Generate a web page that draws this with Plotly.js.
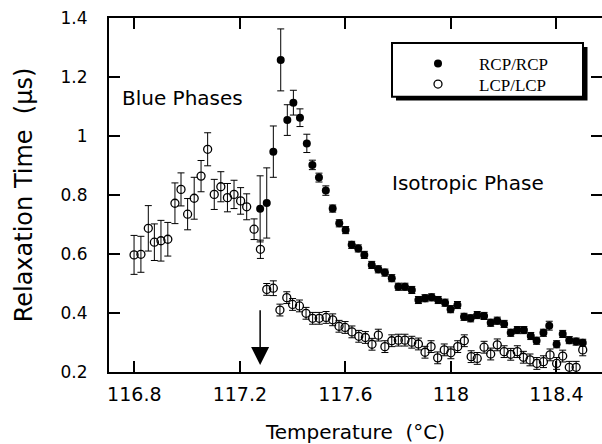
<!DOCTYPE html>
<html>
<head>
<meta charset="utf-8">
<script src="https://cdn.plot.ly/plotly-3.0.1.min.js"></script>
<style>html,body{margin:0;padding:0;background:#fff;}#chart{width:602px;height:444px;}</style>
</head>
<body>
<div id="chart"></div>
<script>
// RCP/RCP (filled circles)
var rcpT = [117.277,117.302,117.327,117.355,117.380,117.403,117.428,117.454,117.475,117.500,
            117.526,117.552,117.577,117.601,117.624,117.649,117.672,117.700,117.725,117.750,
            117.776,117.801,117.826,117.852,117.877,117.902,117.927,117.952,117.978,117.999,
            118.025,118.050,118.075,118.100,118.126,118.151,118.176,118.202,118.227,118.252,
            118.277,118.303,118.325,118.351,118.373,118.401,118.424,118.449,118.475,118.500];
var rcpTau = [0.753,0.773,0.947,1.258,1.054,1.113,1.062,0.975,0.902,0.859,
              0.815,0.754,0.704,0.681,0.631,0.619,0.597,0.563,0.548,0.537,
              0.518,0.489,0.489,0.478,0.444,0.450,0.453,0.444,0.435,0.413,
              0.427,0.387,0.382,0.393,0.390,0.367,0.374,0.363,0.333,0.342,
              0.342,0.322,0.306,0.333,0.357,0.294,0.329,0.308,0.303,0.299];
var rcpErr = [0.112,0.119,0.087,0.105,0.052,0.042,0.030,0.031,0.016,0.015,
              0.016,0.012,0.012,0.012,0.012,0.012,0.012,0.012,0.012,0.012,
              0.012,0.012,0.012,0.012,0.012,0.012,0.012,0.012,0.012,0.012,
              0.012,0.012,0.012,0.012,0.012,0.012,0.012,0.012,0.012,0.012,
              0.012,0.012,0.012,0.012,0.015,0.012,0.012,0.012,0.012,0.012];

// LCP/LCP (open circles)
var lcpT = [116.799,116.825,116.853,116.876,116.901,116.927,116.954,116.977,117.002,117.027,
            117.053,117.078,117.103,117.128,117.153,117.178,117.203,117.226,117.254,117.278,
            117.302,117.327,117.352,117.378,117.400,117.426,117.451,117.476,117.501,117.527,
            117.552,117.576,117.599,117.625,117.651,117.676,117.701,117.725,117.750,117.776,
            117.801,117.826,117.852,117.877,117.902,117.925,117.950,117.975,118.000,118.026,
            118.051,118.077,118.100,118.126,118.151,118.176,118.202,118.227,118.252,118.275,
            118.300,118.326,118.351,118.376,118.401,118.424,118.449,118.475,118.500];
var lcpTau = [0.597,0.599,0.687,0.640,0.645,0.650,0.772,0.819,0.735,0.789,
              0.864,0.955,0.802,0.828,0.791,0.802,0.780,0.760,0.684,0.616,
              0.480,0.484,0.410,0.452,0.429,0.424,0.399,0.382,0.382,0.385,
              0.377,0.355,0.351,0.336,0.321,0.317,0.294,0.325,0.286,0.306,
              0.308,0.308,0.301,0.295,0.267,0.286,0.248,0.275,0.265,0.286,
              0.306,0.252,0.246,0.284,0.261,0.292,0.269,0.260,0.269,0.250,
              0.241,0.229,0.235,0.258,0.229,0.254,0.216,0.216,0.275];
var lcpErr = [0.066,0.061,0.077,0.062,0.069,0.057,0.069,0.056,0.053,0.071,
              0.053,0.056,0.051,0.051,0.048,0.048,0.045,0.044,0.035,0.031,
              0.020,0.025,0.020,0.020,0.020,0.020,0.020,0.020,0.020,0.020,
              0.020,0.020,0.020,0.020,0.020,0.020,0.020,0.020,0.020,0.020,
              0.020,0.020,0.020,0.020,0.020,0.020,0.020,0.020,0.020,0.020,
              0.020,0.020,0.020,0.020,0.020,0.020,0.020,0.020,0.020,0.020,
              0.020,0.020,0.020,0.020,0.020,0.020,0.020,0.020,0.020];

var xTickVals = [116.8,117.2,117.6,118.0,118.4];
var xTickText = ['116.8','117.2','117.6','118','118.4'];
var yTickVals = [0.2,0.4,0.6,0.8,1.0,1.2,1.4];
var yTickText = ['0.2','0.4','0.6','0.8','1','1.2','1.4'];

var traces = [
  {
    x: rcpT, y: rcpTau, name: 'RCP/RCP', type: 'scatter', mode: 'markers', legend: 'legend',
    marker: {symbol: 'circle', size: 8, color: '#000'},
    error_y: {type: 'data', array: rcpErr, visible: true, color: '#000', thickness: 1, width: 3.5}
  },
  {
    x: lcpT, y: lcpTau, name: 'LCP/LCP', type: 'scatter', mode: 'markers', legend: 'legend2',
    marker: {symbol: 'circle-open', size: 8, color: '#000', line: {width: 1.3, color: '#000'}},
    error_y: {type: 'data', array: lcpErr, visible: true, color: '#000', thickness: 1, width: 3.5}
  }
];

function px2px(p){ return (p - 109) / 493; }
function py2py(p){ return (372 - p) / 354; }

var legendFont = {family: 'Liberation Serif', size: 17, color: '#000'};

var layout = {
  width: 602, height: 444,
  margin: {l: 109, r: 0, t: 18, b: 72},
  paper_bgcolor: '#fff', plot_bgcolor: '#fff',
  font: {family: 'DejaVu Sans', color: '#000'},
  xaxis: {
    range: [116.704, 118.573], showgrid: false, zeroline: false,
    showline: true, linecolor: '#000', linewidth: 2, mirror: 'ticks',
    ticks: 'inside', ticklen: 11, tickwidth: 2, tickcolor: '#000',
    tickvals: xTickVals, ticktext: xTickText,
    tickfont: {family: 'DejaVu Sans', size: 19, color: '#000'},
    ticklabelstandoff: 4,
    title: {text: 'Temperature\u00a0\u00a0(°C)', font: {family: 'DejaVu Sans', size: 20, color: '#000'}, standoff: 23}
  },
  yaxis: {
    range: [0.2, 1.4], showgrid: false, zeroline: false,
    showline: true, linecolor: '#000', linewidth: 2, mirror: 'ticks',
    ticks: 'inside', ticklen: 11, tickwidth: 2, tickcolor: '#000',
    tickvals: yTickVals, ticktext: yTickText,
    tickfont: {family: 'DejaVu Sans', size: 17, color: '#000'},
    ticklabelstandoff: 16,
    title: {text: 'Relaxation Time\u00a0\u00a0(µs)', font: {family: 'DejaVu Sans', size: 24, color: '#000'}, standoff: 21}
  },
  showlegend: true,
  legend: {
    x: px2px(397), y: py2py(46), xanchor: 'left', yanchor: 'top',
    bgcolor: 'rgba(0,0,0,0)', borderwidth: 0, itemwidth: 72, font: legendFont
  },
  legend2: {
    x: px2px(397), y: py2py(66.5), xanchor: 'left', yanchor: 'top',
    bgcolor: 'rgba(0,0,0,0)', borderwidth: 0, itemwidth: 72, font: legendFont
  },
  shapes: [
    {type: 'rect', xref: 'paper', yref: 'paper', layer: 'above',
     x0: px2px(396), x1: px2px(587.5), y0: py2py(100.5), y1: py2py(47),
     fillcolor: '#000', line: {width: 0}},
    {type: 'rect', xref: 'paper', yref: 'paper', layer: 'above',
     x0: px2px(392), x1: px2px(583), y0: py2py(96.7), y1: py2py(43),
     fillcolor: '#fff', line: {width: 2, color: '#000'}}
  ],
  annotations: [
    {x: 116.983, y: 1.129, xref: 'x', yref: 'y', text: 'Blue Phases', showarrow: false,
     font: {family: 'DejaVu Sans', size: 20, color: '#000'}},
    {x: 118.065, y: 0.841, xref: 'x', yref: 'y', text: 'Isotropic Phase', showarrow: false,
     font: {family: 'DejaVu Sans', size: 20, color: '#000'}},
    {x: 117.277, y: 0.224, xref: 'x', yref: 'y', ax: 117.277, ay: 0.414, axref: 'x', ayref: 'y',
     text: '', showarrow: true, arrowhead: 2, arrowsize: 2.4, arrowwidth: 1.5, arrowcolor: '#000'}
  ]
};

Plotly.newPlot('chart', traces, layout, {displayModeBar: false, staticPlot: true});
</script>
</body>
</html>
